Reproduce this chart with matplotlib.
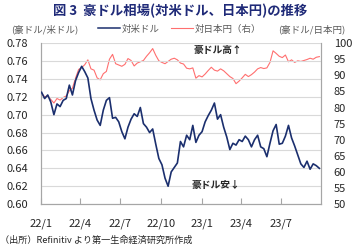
import pandas as pd
import matplotlib
matplotlib.use('Agg')
import matplotlib.pyplot as plt
from matplotlib.lines import Line2D

# 日本語フォント
plt.rcParams['font.family'] = ['Noto Sans CJK JP', 'DejaVu Sans']
plt.rcParams['axes.unicode_minus'] = False

# 週次データ（2022/1/3〜2023/9/25）
dates = pd.date_range('2022-01-03', periods=91, freq='7D')

aud_usd = [
    0.725, 0.718, 0.722, 0.714, 0.700, 0.712, 0.709, 0.716, 0.718, 0.733,
    0.722, 0.738, 0.747, 0.754, 0.748, 0.741, 0.718, 0.705, 0.694, 0.688,
    0.705, 0.716, 0.719, 0.696, 0.697, 0.692, 0.681, 0.673, 0.686, 0.695,
    0.701, 0.698, 0.708, 0.690, 0.686, 0.680, 0.684, 0.667, 0.651, 0.644,
    0.629, 0.620, 0.636, 0.641, 0.646, 0.670, 0.664, 0.677, 0.672, 0.688,
    0.669, 0.677, 0.681, 0.692, 0.699, 0.705, 0.713, 0.695, 0.700, 0.686,
    0.675, 0.661, 0.668, 0.666, 0.672, 0.670, 0.676, 0.672, 0.664, 0.672,
    0.677, 0.664, 0.662, 0.653, 0.668, 0.682, 0.689, 0.667, 0.668, 0.676,
    0.688, 0.674, 0.665, 0.655, 0.645, 0.641, 0.648, 0.639, 0.645, 0.643,
    0.640,
]

aud_jpy = [
    84.4, 83.3, 83.6, 82.5, 81.4, 82.8, 82.3, 83.1, 83.6, 85.2,
    86.0, 89.1, 91.8, 92.4, 93.3, 94.8, 92.0, 91.6, 89.2, 88.6,
    90.5, 91.2, 95.0, 96.5, 93.6, 93.2, 92.8, 93.4, 95.2, 94.6,
    92.9, 93.8, 94.2, 94.6, 95.9, 97.0, 98.3, 96.2, 94.5, 94.0,
    93.6, 94.3, 95.0, 95.3, 94.8, 93.8, 93.5, 92.2, 92.0, 92.3,
    89.1, 89.9, 89.5, 90.4, 91.5, 92.5, 91.6, 91.3, 92.0, 91.4,
    90.5, 89.6, 89.0, 87.4, 88.2, 89.2, 90.3, 89.6, 90.2, 91.0,
    92.0, 92.4, 92.1, 92.3, 94.0, 97.6, 96.8, 95.9, 95.5, 96.3,
    94.2, 94.8, 94.0, 94.5, 94.3, 94.6, 94.9, 95.3, 95.0, 95.6,
    95.8,
]

tick_dates = pd.to_datetime(['2022-01-01', '2022-04-01', '2022-07-01', '2022-10-01',
                             '2023-01-01', '2023-04-01', '2023-07-01'])
tick_labels = ['22/1', '22/4', '22/7', '22/10', '23/1', '23/4', '23/7']

blue = '#1b2f6e'
red = '#ff6f6f'
grid_c = '#d9d9d9'
spine_c = '#a6a6a6'
text_c = '#262626'
gray_c = '#595959'

fig = plt.figure(figsize=(3.6, 2.52), dpi=100)
ax = fig.add_axes([0.113, 0.19, 0.779, 0.639])
ax2 = ax.twinx()

ax.plot(dates, aud_usd, color=blue, lw=1.2, zorder=3)
ax2.plot(dates, aud_jpy, color=red, lw=0.8, zorder=2)

ax.set_zorder(ax2.get_zorder() + 1)
ax.patch.set_visible(False)

ax.set_xlim(pd.Timestamp('2022-01-01'), pd.Timestamp('2023-09-29'))
ax.set_ylim(0.60, 0.78)
ax2.set_ylim(50, 100)

ax.set_yticks([0.60 + 0.02 * i for i in range(10)])
ax.set_yticklabels(['%.2f' % (0.60 + 0.02 * i) for i in range(10)])
ax2.set_yticks(range(50, 101, 5))

ax.set_xticks(tick_dates)
ax.set_xticklabels(tick_labels)

for a in (ax, ax2):
    for s in a.spines.values():
        s.set_color(spine_c)
        s.set_linewidth(0.8)
    a.spines['top'].set_visible(False)

ax.grid(axis='y', color=grid_c, lw=0.8)
ax.tick_params(axis='y', length=0, pad=9, labelsize=8, labelcolor=text_c)
ax2.tick_params(axis='y', length=0, pad=9, labelsize=8, labelcolor=text_c)
ax.tick_params(axis='x', direction='in', length=4, width=0.8, color=spine_c,
               pad=10, labelsize=8, labelcolor=text_c)

# タイトル・注記
fig.text(0.5, 0.958, '図 3  豪ドル相場(対米ドル、日本円)の推移', ha='center', va='center',
         fontsize=9.6, fontweight='bold', color='#1f2a78')
fig.text(0.03, 0.885, '(豪ドル/米ドル)', ha='left', va='center', fontsize=6.8, color=gray_c)
fig.text(0.96, 0.885, '(豪ドル/日本円)', ha='right', va='center', fontsize=6.8, color=gray_c)
fig.text(0.0, 0.045, '（出所）Refinitiv より第一生命経済研究所作成', ha='left', va='center',
         fontsize=6.6, color=text_c)

handles = [Line2D([], [], color=blue, lw=1.1), Line2D([], [], color=red, lw=0.8)]
fig.legend(handles, ['対米ドル', '対日本円（右）'], loc='center', bbox_to_anchor=(0.5, 0.885),
           ncol=2, frameon=False, fontsize=6.8, labelcolor=gray_c, handlelength=2.3,
           handletextpad=0.2, columnspacing=1.2)

ax.text(0.632, 0.955, '豪ドル高↑', transform=ax.transAxes, ha='center', va='center',
        fontsize=7, fontweight='bold', color=text_c)
ax.text(0.626, 0.118, '豪ドル安↓', transform=ax.transAxes, ha='center', va='center',
        fontsize=7, fontweight='bold', color=text_c)

fig.savefig('out.png', dpi=100)
